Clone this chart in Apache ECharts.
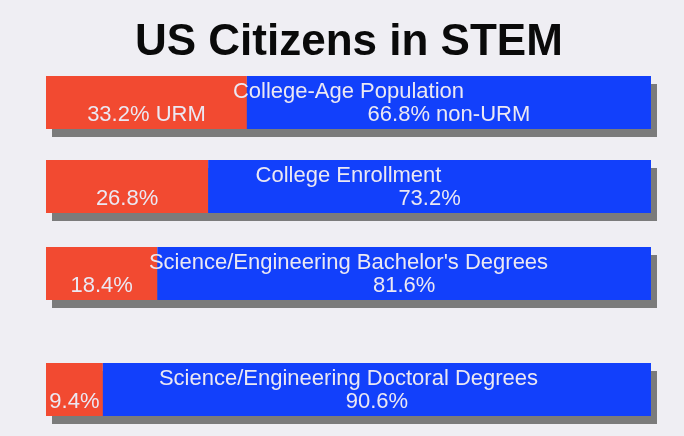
<!DOCTYPE html>
<html>
<head>
<meta charset="utf-8">
<script src="https://cdn.jsdelivr.net/npm/echarts@6/dist/echarts.min.js"></script>
<style>
html,body{margin:0;padding:0;background:#efeef3;}
#c{width:684px;height:436px;}
</style>
</head>
<body>
<div id="c"></div>
<script>
var categories = ['College-Age Population', 'College Enrollment', "Science/Engineering Bachelor's Degrees", 'Science/Engineering Doctoral Degrees'];
var urmValues = [33.2, 26.8, 18.4, 9.4];
var nonUrmValues = [66.8, 73.2, 81.6, 90.6];
var urmSuffix = [' URM', '', '', ''];
var nonUrmSuffix = [' non-URM', '', '', ''];
var totalValues = [100, 100, 100, 100];

var gridTops = [76, 160, 247, 363];
var barH = 53;
var font = '"Liberation Sans", Arial, sans-serif';
var txtColor = '#ebe8f3';

var grids = [], xAxes = [], yAxes = [], series = [];
var n = categories.length;
// shadow grids (offset copies behind the bars)
categories.forEach(function (cat, i) {
  grids.push({left: 52, right: 27, top: gridTops[i] + 8, height: barH, z: 0});
  xAxes.push({type: 'value', gridIndex: i, min: 0, max: 100, show: false});
  yAxes.push({type: 'category', gridIndex: i, data: [cat], show: false});
  series.push({
    type: 'bar', xAxisIndex: i, yAxisIndex: i, barWidth: barH,
    data: [totalValues[i]],
    itemStyle: {color: '#7b7b7b'},
    silent: true, z: 1
  });
});
categories.forEach(function (cat, k) {
  var i = k + n;
  grids.push({left: 46, right: 33, top: gridTops[k], height: barH});
  xAxes.push({type: 'value', gridIndex: i, min: 0, max: 100, show: false});
  yAxes.push({type: 'category', gridIndex: i, data: [cat], show: false});
  series.push({
    type: 'bar', xAxisIndex: i, yAxisIndex: i, stack: 's' + k, barWidth: barH,
    data: [urmValues[k]],
    itemStyle: {color: '#f24a31'},
    label: {show: true, position: 'insideBottom', distance: 3, color: txtColor, fontSize: 22, fontFamily: font,
      formatter: (function (s) { return function (p) { return p.value + '%' + s; }; })(urmSuffix[k])},
    silent: true, z: 2
  });
  series.push({
    type: 'bar', xAxisIndex: i, yAxisIndex: i, stack: 's' + k, barWidth: barH,
    data: [nonUrmValues[k]],
    itemStyle: {color: '#1240fb'},
    label: {show: true, position: 'insideBottom', distance: 3, color: txtColor, fontSize: 22, fontFamily: font,
      formatter: (function (s) { return function (p) { return p.value + '%' + s; }; })(nonUrmSuffix[k])},
    silent: true, z: 2
  });
  series.push({
    type: 'bar', xAxisIndex: i, yAxisIndex: i, barWidth: barH, barGap: '-100%',
    data: [totalValues[k]],
    itemStyle: {color: 'rgba(0,0,0,0)'},
    label: {show: true, position: 'insideTop', distance: 5, color: txtColor, fontSize: 22, fontFamily: font,
      formatter: '{b}'},
    silent: true, z: 3
  });
});

var chart = echarts.init(document.getElementById('c'));
chart.setOption({
  backgroundColor: '#efeef3',
  animation: false,
  title: {
    text: 'US Citizens in STEM', left: 135, top: 21, padding: 0,
    textStyle: {fontSize: 44, fontWeight: 'bold', color: '#0a0a0a', fontFamily: font}
  },
  grid: grids,
  xAxis: xAxes,
  yAxis: yAxes,
  series: series
});
</script>
</body>
</html>
